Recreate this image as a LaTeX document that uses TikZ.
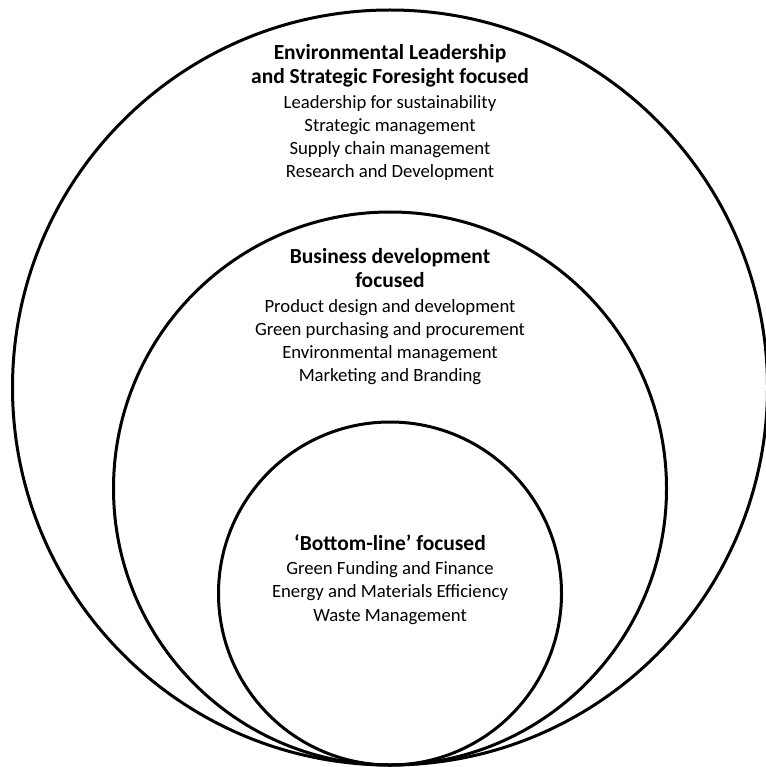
\documentclass[tikz,border=0pt]{standalone}
\usepackage{fontspec}
\setmainfont{Carlito}
\usetikzlibrary{positioning}
\newcommand{\ringhead}[1]{{\fontsize{21.5}{25}\selectfont\bfseries #1}}
\tikzset{
  ring/.style={
    circle,
    draw=black,
    line width=3pt,
    inner sep=0pt,
  },
  ring label/.style={
    align=center,
    font=\fontsize{18.7}{23.2}\selectfont,
    inner sep=0pt,
  },
}

\begin{document}
\begin{tikzpicture}[x=1pt,y=-1pt]
  \useasboundingbox (0,0) rectangle (765,767);

  % three rings, all touching at the bottom
  \node[ring, minimum size=755pt] (outer) at (390,387.5) {};
  \node[ring, minimum size=553pt] (middle) at (390,488.5) {};
  \node[ring, minimum size=343pt] (inner) at (390,593.5) {};

  \node[ring label, below=36pt of outer.north] (leadership) {%
    \ringhead{Environmental Leadership}\\[1pt]
    \ringhead{and Strategic Foresight focused}\\[1pt]
    Leadership for sustainability\\
    Strategic management\\
    Supply chain management\\
    Research and Development};
  \node[ring label, below=38pt of middle.north] (business) {%
    \ringhead{Business development}\\[1pt]
    \ringhead{focused}\\[1pt]
    Product design and development\\
    Green purchasing and procurement\\
    Environmental management\\
    Marketing and Branding};
  \node[ring label, below=114pt of inner.north] (bottomline) {%
    \ringhead{‘Bottom-line’ focused}\\[1pt]
    Green Funding and Finance\\
    Energy and Materials Efficiency\\
    Waste Management};
\end{tikzpicture}
\end{document}
